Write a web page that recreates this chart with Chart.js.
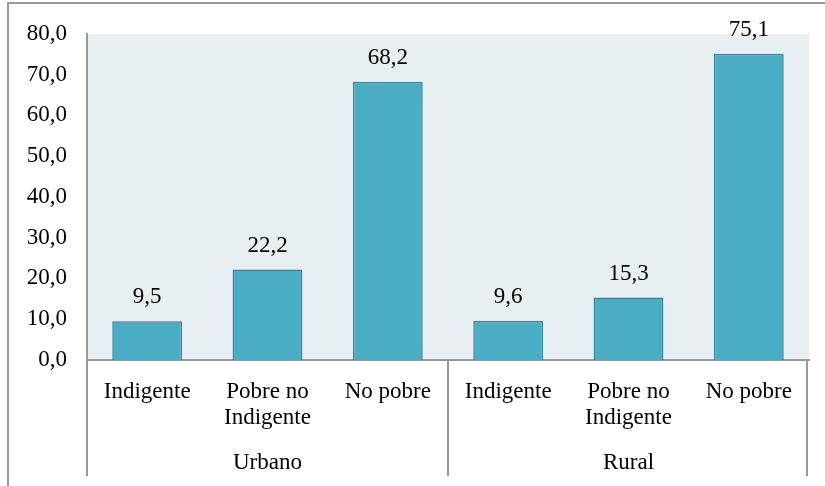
<!DOCTYPE html>
<html>
<head>
<meta charset="utf-8">
<script src="https://cdn.jsdelivr.net/npm/chart.js@4/dist/chart.umd.min.js"></script>
<style>
    html, body { margin: 0; padding: 0; background: #fff; }
    #wrap { position: relative; width: 825px; height: 486px; }
    #frame {
        position: absolute; left: 7px; top: 2px; right: 0; bottom: 0;
        border-left: 2px solid #9a9a9a; border-top: 2px solid #9a9a9a;
        pointer-events: none;
    }
    #probe { position: absolute; left: -999px; font-family: 'Liberation Serif'; }
</style>
</head>
<body>
<div id="wrap">
    <canvas id="chart"></canvas>
    <div id="frame"></div>
</div>
<span id="probe">Indigente 0,0</span>
<script>
const categories = [['Indigente'], ['Pobre no', 'Indigente'], ['No pobre'], ['Indigente'], ['Pobre no', 'Indigente'], ['No pobre']];
const groups = ['Urbano', 'Rural'];
const values = [9.5, 22.2, 68.2, 9.6, 15.3, 75.1];
const yTicks = [0, 10, 20, 30, 40, 50, 60, 70, 80];

const fontFamily = "'Liberation Serif', 'Times New Roman', 'DejaVu Serif', serif";
const axisGray = '#999999';

function fmt(v) {
    return Number(v).toFixed(1).replace('.', ',');
}

// plot background
const plotBg = {
    id: 'plotBg',
    beforeDraw(chart) {
        const { ctx, chartArea: a } = chart;
        ctx.save();
        ctx.fillStyle = '#E7EFF2';
        ctx.fillRect(a.left, a.top, a.right - a.left, a.bottom - a.top);
        ctx.restore();
    }
};

// value labels above the bars
const valueLabels = {
    id: 'valueLabels',
    afterDatasetsDraw(chart) {
        const { ctx } = chart;
        const meta = chart.getDatasetMeta(0);
        ctx.save();
        ctx.font = '23px ' + fontFamily;
        ctx.fillStyle = '#000';
        ctx.textAlign = 'center';
        ctx.textBaseline = 'middle';
        meta.data.forEach((bar, i) => {
            ctx.fillText(fmt(values[i]), bar.x, bar.y - 24);
        });
        ctx.restore();
    }
};

// group separators under the category axis
const separators = {
    id: 'separators',
    afterDraw(chart) {
        const { ctx } = chart;
        const xs = chart.scales.x;
        const x2 = chart.scales.x2;
        const mid = (xs.getPixelForValue(2) + xs.getPixelForValue(3)) / 2;
        ctx.save();
        ctx.strokeStyle = axisGray;
        ctx.lineWidth = 2;
        [xs.left, mid, xs.right - 2].forEach(px => {
            ctx.beginPath();
            ctx.moveTo(px, xs.top);
            ctx.lineTo(px, x2.bottom);
            ctx.stroke();
        });
        ctx.restore();
    }
};

function draw() {
    new Chart(document.getElementById('chart').getContext('2d'), {
        type: 'bar',
        data: {
            labels: categories,
            datasets: [{
                data: values,
                backgroundColor: '#4BACC6',
                borderColor: '#31849B',
                borderWidth: 1.5,
                barPercentage: 0.58,
                categoryPercentage: 1
            }]
        },
        options: {
            responsive: true,
            maintainAspectRatio: false,
            animation: false,
            layout: { padding: { left: 25, right: 16, top: 32, bottom: 10 } },
            plugins: {
                legend: { display: false },
                tooltip: { enabled: false }
            },
            scales: {
                y: {
                    min: 0,
                    max: 80,
                    afterBuildTicks: scale => { scale.ticks = yTicks.map(v => ({ value: v })); },
                    afterFit: scale => { scale.width = 62; },
                    grid: { display: false, drawTicks: false },
                    border: { display: true, color: axisGray, width: 2 },
                    ticks: {
                        padding: 20,
                        color: '#000',
                        font: { family: fontFamily, size: 23 },
                        callback: v => fmt(v)
                    }
                },
                x: {
                    weight: 0,
                    afterFit: scale => { scale.height = 71; },
                    grid: { display: false, drawTicks: false },
                    border: { display: true, color: axisGray, width: 2 },
                    ticks: {
                        padding: 19,
                        maxRotation: 0,
                        autoSkip: false,
                        color: '#000',
                        font: { family: fontFamily, size: 23, lineHeight: 1.13 }
                    }
                },
                x2: {
                    type: 'category',
                    position: 'bottom',
                    labels: groups,
                    offset: true,
                    weight: 1,
                    afterFit: scale => { scale.height = 45; },
                    grid: { display: false, drawTicks: false },
                    border: { display: false },
                    ticks: {
                        padding: 19,
                        maxRotation: 0,
                        color: '#000',
                        font: { family: fontFamily, size: 23, lineHeight: 1.13 }
                    }
                }
            }
        },
        plugins: [plotBg, valueLabels, separators]
    });
}

if (document.fonts && document.fonts.load) {
    document.fonts.load("23px 'Liberation Serif'").then(draw, draw);
} else {
    draw();
}
</script>
</body>
</html>
